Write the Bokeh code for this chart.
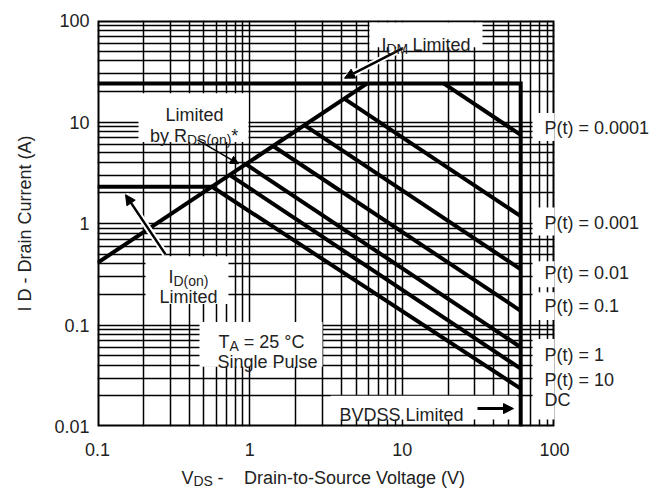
from bokeh.plotting import figure
from bokeh.models import (Label, Arrow, NormalHead, FixedTicker, LogAxis)
from bokeh.embed import file_html
from bokeh.resources import INLINE

# ---------------- data ----------------
x_ticks = [0.1, 1, 10, 100]
y_ticks = [0.01, 0.1, 1, 10, 100]
x_tick_labels = ["0.1", "1", "10", "100"]
y_tick_labels = ["0.01", "0.1", "1", "10", "100"]

# I_DM limit (horizontal) joined with BVDSS limit (vertical)
env_vds = [0.1, 60, 60]
env_id = [24, 24, 0.01]
# I_D(on) limit
idon_vds = [0.1, 0.565]
idon_id = [2.3, 2.3]
# R_DS(on) limit
rds_vds = [0.1, 5.9]
rds_id = [0.41, 24]

pulse_names = ["P(t) = 0.0001", "P(t) = 0.001", "P(t) = 0.01", "P(t) = 0.1",
               "P(t) = 1", "P(t) = 10", "DC"]
pulse_vds_start = [18.7, 4.16, 2.28, 1.42, 0.94, 0.74, 0.565]
pulse_id_start = [24, 17.0, 9.3, 5.8, 3.85, 3.0, 2.3]
pulse_vds_end = [60, 60, 60, 60, 60, 60, 60]
pulse_id_end = [7.46, 1.18, 0.354, 0.138, 0.0604, 0.0371, 0.0236]

# ---------------- layout helpers ----------------
XR = (0.1, 100)
YR = (0.01, 100)
L, R, T, B = 97, 554, 20, 428
W, H = 652, 491
FONT = "Liberation Sans"
TC = "#222222"
BOXC = "white"


def dx(px):
    return float(f"{10 ** (-1 + 3 * (px - L) / (R - L)):.5g}")


def dy(py):
    return float(f"{10 ** (2 - 4 * (py - T) / (B - T)):.5g}")


p = figure(width=W, height=H, x_axis_type="log", y_axis_type="log",
           x_range=XR, y_range=YR,
           output_backend="svg", toolbar_location=None,
           min_border_left=L, min_border_right=W - R,
           min_border_top=T, min_border_bottom=H - B)
p.background_fill_color = "white"
p.border_fill_color = "white"
p.outline_line_color = None

minor_x = [m * 10 ** e for e in (-1, 0, 1) for m in range(2, 10)]
minor_y = [m * 10 ** e for e in (-2, -1, 0, 1) for m in range(2, 10)]
xax = p.below[0]
yax = p.left[0]
xax.ticker = FixedTicker(ticks=x_ticks, minor_ticks=minor_x)
yax.ticker = FixedTicker(ticks=y_ticks, minor_ticks=minor_y)
xax.major_label_overrides = {t: s for t, s in zip(x_ticks, x_tick_labels)}
yax.major_label_overrides = {t: s for t, s in zip(y_ticks, y_tick_labels)}


def style_axis(ax, size="18px"):
    ax.axis_line_color = None
    ax.major_tick_line_color = None
    ax.minor_tick_line_color = None
    ax.major_tick_out = 0
    ax.major_tick_in = 0
    ax.minor_tick_out = 0
    ax.minor_tick_in = 0
    ax.major_label_text_font = FONT
    ax.major_label_text_font_size = size
    ax.major_label_text_color = TC


style_axis(xax)
style_axis(yax)
xax.major_label_standoff = 16
yax.major_label_standoff = 8
yax.axis_label = "I D - Drain Current (A)"
yax.axis_label_text_font = FONT
yax.axis_label_text_font_size = "18px"
yax.axis_label_text_font_style = "normal"
yax.axis_label_text_color = TC
yax.axis_label_standoff = 16

# x-axis title, written as tick labels of two extra axes (main text + subscript)
xt_pos = [dx(187), dx(220), dx(354)]
xt_text = ["V", "-", "Drain-to-Source Voltage (V)"]
xtitle = LogAxis(ticker=FixedTicker(ticks=xt_pos, minor_ticks=[]),
                 major_label_overrides=dict(zip(xt_pos, xt_text)))
style_axis(xtitle)
xtitle.major_label_standoff = 9
p.add_layout(xtitle, "below")

xs_pos = [dx(202.7)]
xsub = LogAxis(ticker=FixedTicker(ticks=xs_pos, minor_ticks=[]),
               major_label_overrides={xs_pos[0]: "DS"})
style_axis(xsub, "14px")
xsub.major_label_standoff = -18
p.add_layout(xsub, "below")

# pulse-width labels on the right, as tick labels of a right axis
pulse_label_y = [dy(128), dy(223.5), dy(273.5), dy(307), dy(356), dy(381), dy(401)]
raxis = LogAxis(ticker=FixedTicker(ticks=pulse_label_y, minor_ticks=[]),
                major_label_overrides=dict(zip(pulse_label_y, pulse_names)))
style_axis(raxis)
raxis.major_label_standoff = -10
p.add_layout(raxis, "right")

for g in (p.xgrid, p.ygrid):
    g.grid_line_color = "black"
    g.grid_line_width = 1.5
    g.minor_grid_line_color = "black"
    g.minor_grid_line_width = 1.5

# frame border (drawn as a glyph so the label backgrounds can cover it)
p.quad(left=[XR[0]], right=[XR[1]], bottom=[YR[0]], top=[YR[1]],
       fill_color=None, line_color="black", line_width=4)

# ---------------- label backgrounds (above grid, under the curves) ----------------
boxes = [
    (369, 22, 482, 47),     # I_DM Limited
    (138, 93, 248, 142),    # Limited by RDS(on)*
    (145, 257, 228, 305),   # I_D(on) Limited
    (199, 323, 322, 368),   # TA / Single Pulse
    (330, 397, 517, 421),   # BVDSS Limited
    (532, 113, 560, 141),   # P(t) labels
    (532, 208, 560, 236),
    (532, 262, 560, 288),
    (532, 293, 560, 321),
    (532, 340, 560, 421),
]
p.quad(left=[dx(b[0]) for b in boxes], right=[dx(b[2]) for b in boxes],
       top=[dy(b[1]) for b in boxes], bottom=[dy(b[3]) for b in boxes],
       fill_color=BOXC, line_color=None)

# ---------------- curves ----------------
LW = 4
p.line(env_vds, env_id, line_color="black", line_width=LW, line_join="miter")
p.line(idon_vds, idon_id, line_color="black", line_width=LW)
p.line(rds_vds, rds_id, line_color="black", line_width=LW)
for i in range(len(pulse_names)):
    p.line([pulse_vds_start[i], pulse_vds_end[i]],
           [pulse_id_start[i], pulse_id_end[i]],
           line_color="black", line_width=LW)


# ---------------- annotations ----------------
def txt(s, px, py, size=18, align="left", angle=0.0):
    p.add_layout(Label(x=dx(px), y=dy(py), text=s, text_font=FONT,
                       text_font_size=f"{size}px", text_color=TC,
                       text_align=align, text_baseline="alphabetic", angle=angle))


def arrow(x0, y0, x1, y1, w=2.0, halo=False, size=10):
    if halo:
        p.add_layout(Arrow(end=None, x_start=dx(x0), y_start=dy(y0),
                           x_end=dx(x1), y_end=dy(y1), line_color="white",
                           line_width=w + 4))
    p.add_layout(Arrow(end=NormalHead(size=size, fill_color="black", line_color="black"),
                       x_start=dx(x0), y_start=dy(y0), x_end=dx(x1), y_end=dy(y1),
                       line_color="black", line_width=w))


arrow(402, 48, 344, 78, w=2.5, halo=True)
arrow(197, 140, 238, 164, w=1.5, size=8)
arrow(165, 255, 125, 195, w=2.5, halo=True)
arrow(477, 410, 513, 410, w=3)

# I_DM Limited
txt("I", 381, 45)
txt("DM", 386, 49, size=14)
txt("Limited", 412, 45)

# Limited by R_DS(on)*
txt("Limited", 194, 115, align="center")
txt("by R", 149.5, 136)
txt("DS(on)", 186.5, 140, size=14)
txt("*", 230.8, 136)

# I_D(on) Limited
txt("I", 168, 278)
txt("D(on)", 173, 282, size=14)
txt("Limited", 188, 298, align="center")

# T_A = 25 °C / Single Pulse
txt("T", 218, 343)
txt("A", 229, 347, size=14)
txt("= 25 °C", 243.3, 343)
txt("Single Pulse", 267, 363, align="center")

# BVDSS Limited
txt("BVDSS Limited", 339, 416)

open("out.html", "w").write(file_html(p, INLINE))
